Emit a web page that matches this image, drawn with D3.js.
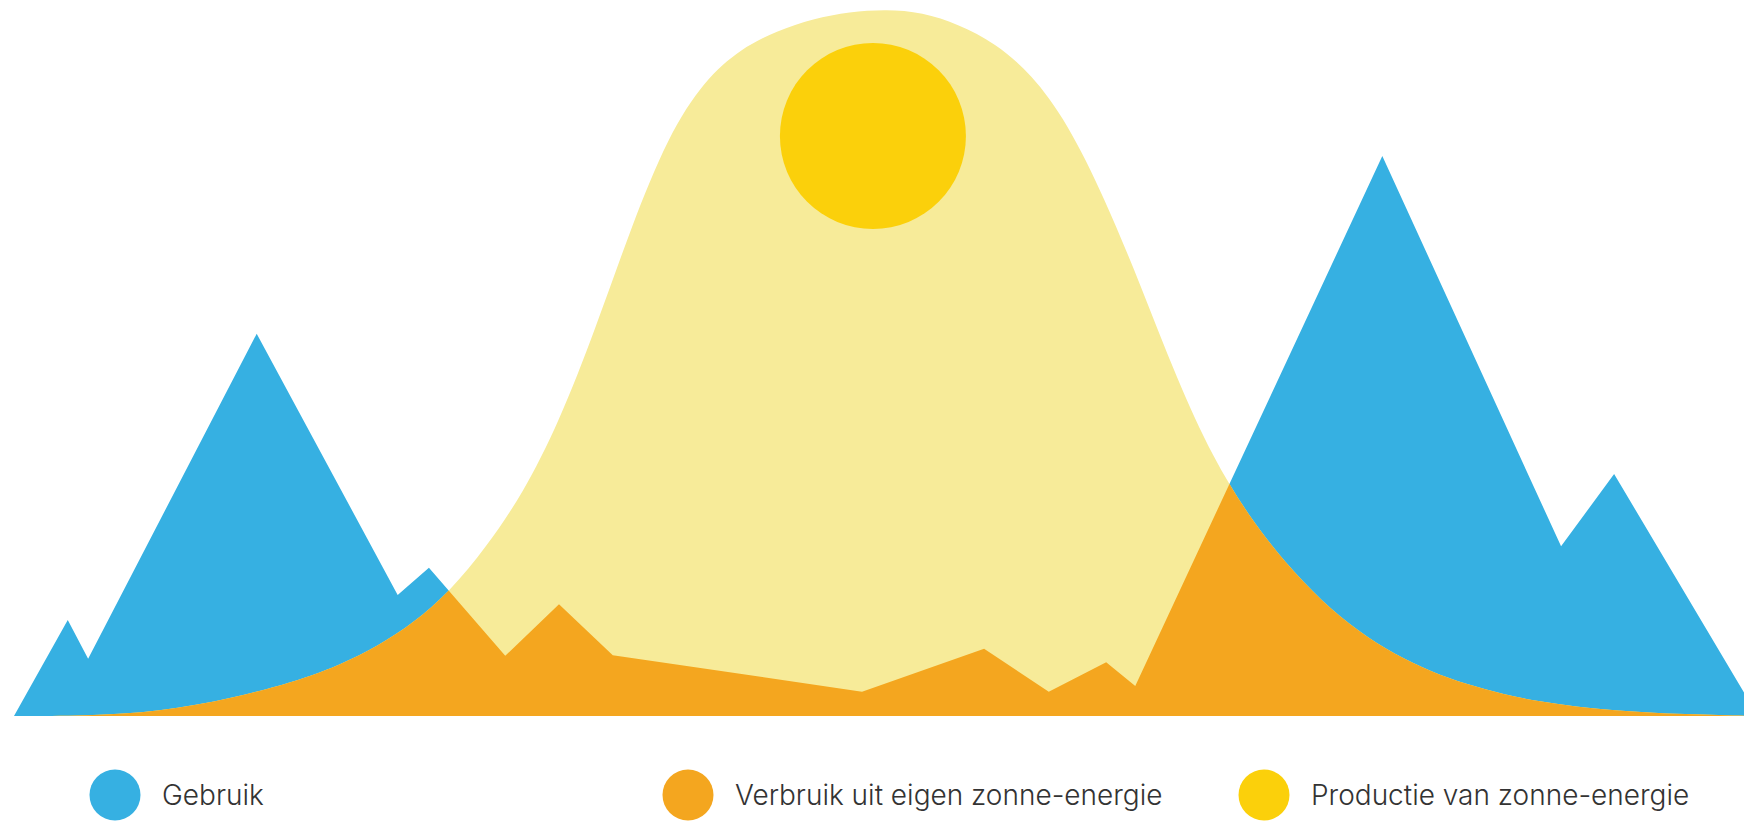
<!DOCTYPE html>
<html>
<head>
<meta charset="utf-8">
<script src="https://cdn.jsdelivr.net/npm/d3@7"></script>
<style>
  html, body { margin: 0; padding: 0; background: #fff; }
  svg { display: block; }
</style>
</head>
<body>
<div id="chart"></div>
<script>
const width = 1744;
const height = 821;

// consumption (Gebruik), hour of day -> relative load
const useHours  = [0, 0.74, 1.02, 3.34, 5.28, 5.71, 6.76, 7.5, 8.24, 11.67, 13.35, 14.24, 15.03, 15.43, 18.83, 21.29, 22.02, 24];
const useValues = [0, 13.4, 8.0, 53.4, 16.9, 20.7, 8.4, 15.6, 8.5, 3.4, 9.4, 3.4, 7.5, 4.2, 78.2, 23.7, 33.8, 0];

// solar production, hour of day -> relative output
const sunHours  = [0, 1, 2, 3, 4, 4.5, 5, 5.5, 6, 6.5, 7, 7.5, 8, 8.5, 9, 9.5, 10, 10.5, 11, 11.5, 12,
                   12.5, 13, 13.5, 14, 14.5, 15, 15.5, 16, 16.5, 17, 17.5, 18, 18.5, 19, 19.5, 20, 20.5, 21, 21.5, 22, 23, 24];
const sunValues = [0, 0, 0.6, 2.4, 5.2, 7.2, 9.7, 13.0, 17.4, 23.6, 31.0, 41.0, 54.0, 68.5, 81.0, 88.8, 93.2, 95.7, 97.4, 98.35, 98.7,
                   98.3, 96.6, 94.0, 89.7, 82.8, 72.5, 60.3, 47.1, 36.0, 27.8, 21.3, 16.0, 11.8, 8.6, 6.2, 4.4, 3.0, 2.0, 1.3, 0.8, 0.2, 0];

const legendLabels = ["Gebruik", "Verbruik uit eigen zonne-energie", "Productie van zonne-energie"];
const legendColors = ["#36b0e2", "#f4a61f", "#fbd00b"];

const colBlue = "#36b0e2";
const colOrange = "#f4a61f";
const colLight = "#f7eb99";
const colSun = "#fbd00b";

const useData = useHours.map((h, i) => ({ h: h, v: useValues[i] }));
const sunData = sunHours.map((h, i) => ({ h: h, v: sunValues[i] }));

const x = d3.scaleLinear().domain([0, 24]).range([14, 1758]);
const y = d3.scaleLinear().domain([0, 100]).range([716, 0]);

const useArea = d3.area()
    .x(d => x(d.h))
    .y0(y(0))
    .y1(d => y(d.v));

const sunArea = d3.area()
    .curve(d3.curveBasis)
    .x(d => x(d.h))
    .y0(y(0))
    .y1(d => y(d.v));

const svg = d3.select("#chart")
  .append("svg")
    .attr("width", width)
    .attr("height", height)
    .attr("viewBox", [0, 0, width, height]);

const defs = svg.append("defs");

// keeps everything above the baseline
defs.append("clipPath")
    .attr("id", "plot-clip")
  .append("rect")
    .attr("x", 0)
    .attr("y", 0)
    .attr("width", width)
    .attr("height", y(0));

// self consumed part = overlap of use and production
defs.append("clipPath")
    .attr("id", "sun-clip")
  .append("path")
    .attr("d", sunArea(sunData));

const plot = svg.append("g")
    .attr("clip-path", "url(#plot-clip)");

plot.append("path")
    .attr("d", useArea(useData))
    .attr("fill", colBlue);

plot.append("path")
    .attr("d", sunArea(sunData))
    .attr("fill", colLight);

plot.append("path")
    .attr("d", useArea(useData))
    .attr("fill", colOrange)
    .attr("clip-path", "url(#sun-clip)");

// the sun itself
svg.append("circle")
    .attr("cx", x(11.82))
    .attr("cy", y(81))
    .attr("r", 93)
    .attr("fill", colSun);

// legend
const legendX = [115, 688, 1264];

const legend = svg.append("g")
  .selectAll("g")
  .data(legendLabels)
  .join("g")
    .attr("transform", (d, i) => `translate(${legendX[i]},795)`);

legend.append("circle")
    .attr("r", 25.5)
    .attr("fill", (d, i) => legendColors[i]);

legend.append("text")
    .attr("x", 47)
    .attr("y", 10)
    .style("font-family", "Inter, 'Open Sans', sans-serif")
    .style("font-weight", 300)
    .style("font-size", "28px")
    .style("fill", "#333")
    .text(d => d);
</script>
</body>
</html>
